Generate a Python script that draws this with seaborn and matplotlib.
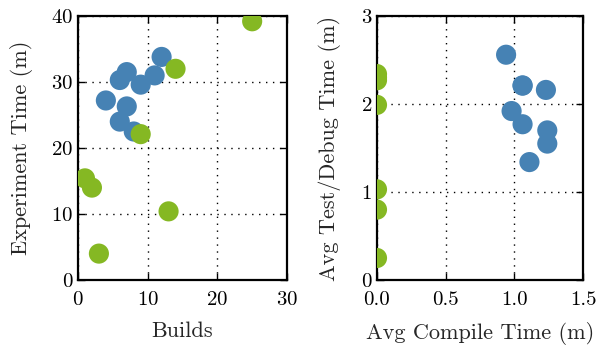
import matplotlib
matplotlib.use('Agg')
import matplotlib.pyplot as plt
import seaborn as sns
import pandas as pd

# left panel: builds vs experiment time
builds_blue = [12, 7, 6, 9, 11, 4, 7, 6, 8]
exp_blue = [33.8, 31.5, 30.3, 29.6, 31.0, 27.2, 26.3, 24.0, 22.5]
builds_green = [25, 14, 9, 1, 2, 13, 3]
exp_green = [39.2, 32.0, 22.1, 15.4, 14.0, 10.4, 4.0]

# right panel: avg compile time vs avg test/debug time
comp_blue = [0.94, 1.06, 1.23, 0.98, 1.06, 1.24, 1.24, 1.11, 1.06]
test_blue = [2.56, 2.21, 2.16, 1.92, 1.77, 1.70, 1.55, 1.34, 2.21]
comp_green = [0.0, 0.0, 0.0, 0.0, 0.0, 0.0, 0.0]
test_green = [2.34, 2.27, 1.99, 1.03, 0.80, 0.25, 2.30]

blue = '#4682b4'
green = '#85b823'

sns.set_style('white')
plt.rcParams['font.family'] = ['cmr10', 'DejaVu Serif']
plt.rcParams['axes.formatter.use_mathtext'] = True
plt.rcParams['font.size'] = 15

df_l = pd.DataFrame({'x': builds_blue + builds_green,
                     'y': exp_blue + exp_green,
                     'g': ['b'] * len(builds_blue) + ['g'] * len(builds_green)})
df_r = pd.DataFrame({'x': comp_blue + comp_green,
                     'y': test_blue + test_green,
                     'g': ['b'] * len(comp_blue) + ['g'] * len(comp_green)})

fig = plt.figure(figsize=(5.97, 3.46), dpi=100)
ax1 = fig.add_axes([78 / 597, 66 / 346, 209 / 597, 264 / 346])
ax2 = fig.add_axes([377 / 597, 66 / 346, 206 / 597, 264 / 346])

for ax, df in [(ax1, df_l), (ax2, df_r)]:
    sns.scatterplot(data=df, x='x', y='y', hue='g', palette={'b': blue, 'g': green},
                    s=210, linewidth=0, alpha=1, legend=False, ax=ax, zorder=3)
    ax.grid(True, color='black', linestyle=(0, (1, 4)), linewidth=1.0)
    ax.set_axisbelow(True)
    for sp in ax.spines.values():
        sp.set_visible(True)
        sp.set_color('black')
        sp.set_linewidth(1.6)
    ax.tick_params(direction='in', top=True, right=True, bottom=True, left=True,
                   length=5, width=1, labelsize=15, colors='black')
    ax.tick_params(axis='x', pad=8)

ax1.set_xlim(0, 30)
ax1.set_ylim(0, 40)
ax1.set_xticks([0, 10, 20, 30])
ax1.set_yticks([0, 10, 20, 30, 40])
ax1.set_xlabel('Builds', fontsize=16, labelpad=9)
ax1.set_ylabel('Experiment Time (m)', fontsize=16, labelpad=13)

ax2.set_xlim(0, 1.5)
ax2.set_ylim(0, 3)
ax2.set_xticks([0, 0.5, 1.0, 1.5])
ax2.set_xticklabels(['0.0', '0.5', '1.0', '1.5'])
ax2.set_yticks([0, 1, 2, 3])
ax2.set_xlabel('Avg Compile Time (m)', fontsize=16, labelpad=9)
ax2.set_ylabel('Avg Test/Debug Time (m)', fontsize=16, labelpad=14)

fig.savefig('out.png', dpi=100)
